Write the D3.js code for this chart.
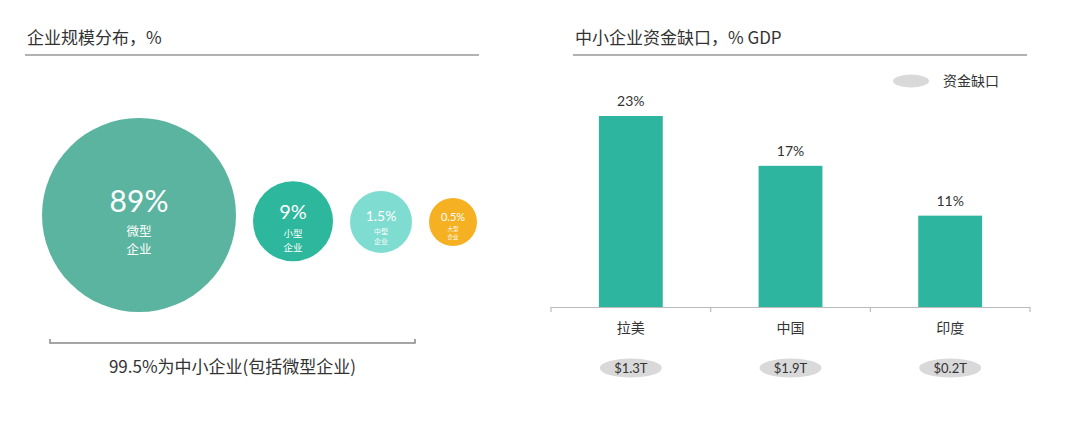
<!DOCTYPE html>
<meta charset="utf-8">
<style>
body { margin: 0; background: #fff; }
svg { display: block; font-family: 'Noto Sans CJK SC', 'Noto Sans', sans-serif; }
.title { font-size: 17px; fill: #333; }
.rule { stroke: #999; stroke-width: 1.5; }
.num { font-family: Lato, 'Noto Sans CJK SC', sans-serif; fill: #333; }
</style>
<body>
<div id="chart"></div>
<script src="https://cdn.jsdelivr.net/npm/d3@7"></script>
<script>
// left panel: firm size shares
var sizeShare = [89, 9, 1.5, 0.5];
var sizeLabel = ['89%', '9%', '1.5%', '0.5%'];
var sizeName = [['微型', '企业'], ['小型', '企业'], ['中型', '企业'], ['大型', '企业']];
var sizeColor = ['#5bb4a0', '#2db79d', '#7edcd0', '#f5b121'];

// right panel: SME finance gap
var regions = ['拉美', '中国', '印度'];
var gapPct = [23, 17, 11];
var gapUsd = ['$1.3T', '$1.9T', '$0.2T'];

var W = 1080, H = 422;
var svg = d3.select('#chart').append('svg').attr('width', W).attr('height', H);

// ---------- left ----------
svg.append('text').attr('class', 'title').attr('x', 27).attr('y', 44).text('企业规模分布，%');
svg.append('line').attr('class', 'rule').attr('x1', 25).attr('x2', 479).attr('y1', 55).attr('y2', 55);

// circle size is illustrative, not area-true
var rScale = d3.scaleLinear().domain([0.5, 1.5, 9, 89]).range([24, 31, 40, 97]);
var fontScale = d3.scaleLinear().domain([0.5, 1.5, 9, 89]).range([11, 14, 20, 30]);
var subScale = d3.scaleLinear().domain([0.5, 1.5, 9, 89]).range([5.5, 7, 9.5, 12.5]);

var gap = 17;
var cx = [];
var acc = 42;
sizeShare.forEach(function(v, i) {
  var r = rScale(v);
  cx.push(acc + r);
  acc += 2 * r + gap;
});
var cyScale = d3.scaleLinear().domain([0.5, 89]).range([222, 215]);

var g = svg.append('g').selectAll('g').data(sizeShare).join('g')
  .attr('transform', function(d, i) { return 'translate(' + cx[i] + ',' + cyScale(d) + ')'; });

g.append('circle').attr('r', function(d) { return rScale(d); })
  .attr('fill', function(d, i) { return sizeColor[i]; });

g.append('text')
  .attr('text-anchor', 'middle')
  .attr('y', function(d) { return -fontScale(d) * 0.1; })
  .attr('fill', '#fff')
  .style('font-family', 'Lato, sans-serif')
  .style('font-size', function(d) { return fontScale(d) + 'px'; })
  .text(function(d, i) { return sizeLabel[i]; });

g.each(function(d, i) {
  var s = subScale(d);
  var sel = d3.select(this);
  sizeName[i].forEach(function(t, k) {
    sel.append('text')
      .attr('text-anchor', 'middle')
      .attr('y', s * 1.7 + k * s * 1.45)
      .attr('fill', '#fff')
      .style('font-size', s + 'px')
      .text(t);
  });
});

// bracket under circles
var bx0 = 50, bx1 = 415, by = 343;
svg.append('path').attr('fill', 'none').attr('stroke', '#888').attr('stroke-width', 1.5)
  .attr('d', 'M' + bx0 + ',' + (by - 4) + 'V' + by + 'H' + bx1 + 'V' + (by - 4));
svg.append('text').attr('x', (bx0 + bx1) / 2).attr('y', 373).attr('text-anchor', 'middle')
  .style('font-size', '17px').attr('fill', '#333').text('99.5%为中小企业(包括微型企业)');

// ---------- right ----------
svg.append('text').attr('class', 'title').attr('x', 575).attr('y', 44).text('中小企业资金缺口，% GDP');
svg.append('line').attr('class', 'rule').attr('x1', 573).attr('x2', 1027).attr('y1', 55).attr('y2', 55);

// legend
svg.append('ellipse').attr('cx', 911).attr('cy', 81).attr('rx', 18).attr('ry', 6.5).attr('fill', '#d9d9d9');
svg.append('text').attr('x', 943).attr('y', 86).style('font-size', '14px').attr('fill', '#333').text('资金缺口');

var x = d3.scaleBand().domain(regions).range([551, 1030]).paddingInner(0.6).paddingOuter(0.3);
var y = d3.scaleLinear().domain([0, 23]).range([307, 116]);

svg.append('g').selectAll('rect').data(gapPct).join('rect')
  .attr('x', function(d, i) { return x(regions[i]); })
  .attr('width', x.bandwidth())
  .attr('y', function(d) { return y(d); })
  .attr('height', function(d) { return y(0) - y(d); })
  .attr('fill', '#2db59f');

svg.append('g').selectAll('text').data(gapPct).join('text')
  .attr('class', 'num')
  .attr('x', function(d, i) { return x(regions[i]) + x.bandwidth() / 2; })
  .attr('y', function(d) { return y(d) - 10; })
  .attr('text-anchor', 'middle').style('font-size', '14px')
  .text(function(d) { return d + '%'; });

// axis baseline with ticks at band edges
var step = x.step();
var edges = d3.range(regions.length + 1).map(function(i) { return x.range()[0] + i * step; });
svg.append('line').attr('x1', edges[0]).attr('x2', edges[edges.length - 1])
  .attr('y1', y(0) + 0.5).attr('y2', y(0) + 0.5).attr('stroke', '#bbb').attr('stroke-width', 1.2);
svg.append('g').selectAll('line').data(edges).join('line')
  .attr('x1', function(d) { return d; }).attr('x2', function(d) { return d; })
  .attr('y1', y(0)).attr('y2', y(0) + 5).attr('stroke', '#bbb').attr('stroke-width', 1.2);

svg.append('g').selectAll('text').data(regions).join('text')
  .attr('x', function(d) { return x(d) + x.bandwidth() / 2; })
  .attr('y', 333).attr('text-anchor', 'middle').style('font-size', '14px').attr('fill', '#333')
  .text(function(d) { return d; });

var pill = svg.append('g').selectAll('g').data(gapUsd).join('g')
  .attr('transform', function(d, i) { return 'translate(' + (x(regions[i]) + x.bandwidth() / 2) + ',368)'; });
pill.append('ellipse').attr('rx', 31).attr('ry', 9.5).attr('fill', '#d9d9d9');
pill.append('text').attr('class', 'num').attr('text-anchor', 'middle').attr('y', 5)
  .style('font-size', '13px').text(function(d) { return d; });
</script>
</body>
